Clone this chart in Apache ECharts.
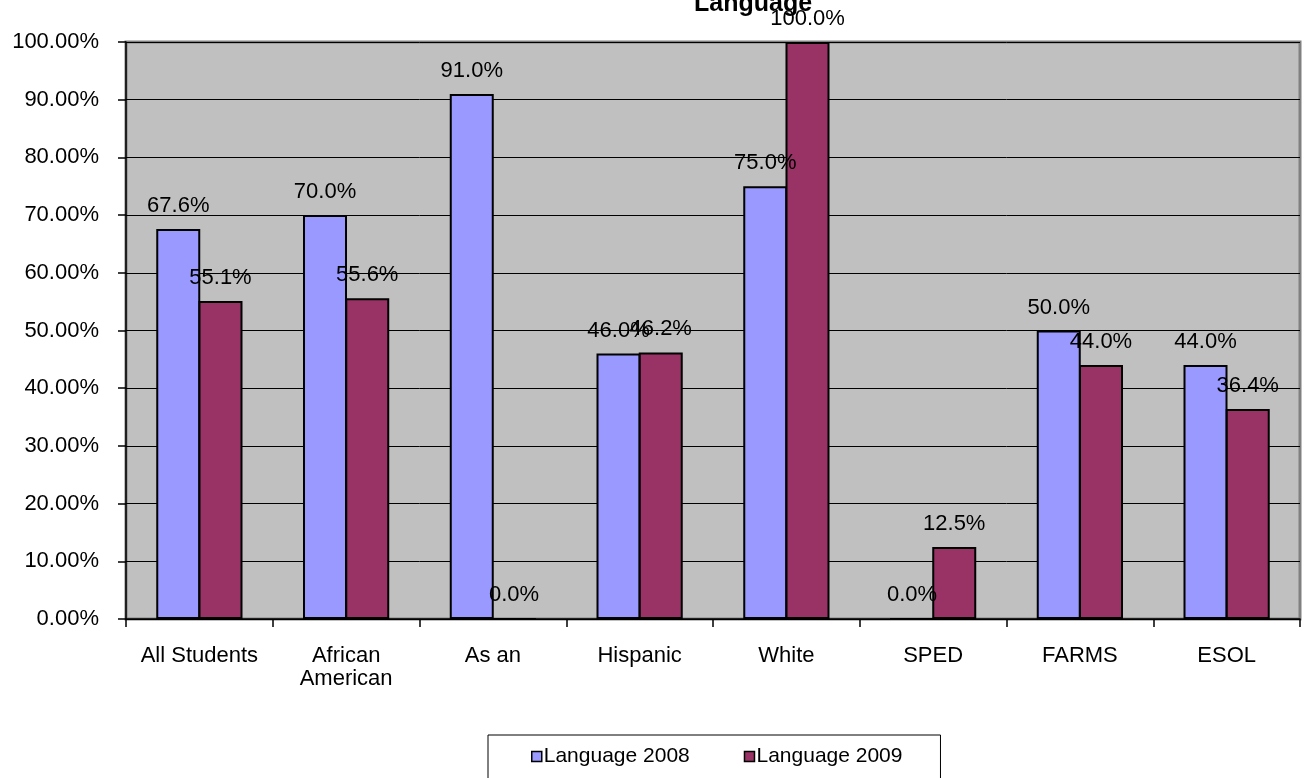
<!DOCTYPE html>
<html>
<head>
<meta charset="utf-8">
<style>
  html, body { margin: 0; padding: 0; background: #ffffff; }
  #chart { width: 1304px; height: 778px; }
</style>
<script src="https://cdn.jsdelivr.net/npm/echarts@6/dist/echarts.min.js"></script>
</head>
<body>
<div id="chart"></div>
<script>
// Student groups along the x axis
const categories = ['All Students', 'African\nAmerican', 'As an', 'Hispanic', 'White', 'SPED', 'FARMS', 'ESOL'];
// Percent proficient per group
const language2008 = [67.6, 70.0, 91.0, 46.0, 75.0, 0.0, 50.0, 44.0];
const language2009 = [55.1, 55.6, 0.0, 46.2, 100.0, 12.5, 44.0, 36.4];
const seriesNames = ['Language 2008', 'Language 2009'];

const FONT = 'Liberation Sans';
const FONT_SIZE = 22;
const chart = echarts.init(document.getElementById('chart'), null, { renderer: 'canvas' });

const labelStyle = {
  show: true,
  position: 'top',
  distance: 12,
  color: '#000',
  fontFamily: FONT,
  fontSize: FONT_SIZE,
  formatter: p => p.value.toFixed(1) + '%'
};

chart.setOption({
  animation: false,
  backgroundColor: '#ffffff',
  title: {
    text: 'Language',
    left: 689,
    top: -13,
    textStyle: { fontFamily: 'Liberation Sans', fontWeight: 'bold', fontSize: 25, color: '#000' }
  },
  grid: {
    left: 126, right: 4, top: 42, bottom: 159,
    show: true,
    backgroundColor: '#c0c0c0',
    borderColor: '#808080',
    borderWidth: 3
  },
  legend: {
    data: seriesNames,
    left: 488,
    top: 735,
    padding: [11, 38, 40, 43],
    itemGap: 54,
    itemWidth: 10,
    itemHeight: 10,
    backgroundColor: '#ffffff',
    borderColor: '#000',
    borderWidth: 1,
    borderRadius: 0,
    icon: 'rect',
    itemStyle: { borderColor: '#000', borderWidth: 1.5 },
    textStyle: { fontFamily: FONT, fontSize: 21, color: '#000', padding: [0, 0, 0, -3] }
  },
  xAxis: {
    type: 'category',
    data: categories,
    axisLine: { show: true, lineStyle: { color: '#000', width: 1.5 } },
    axisTick: { show: true, alignWithLabel: false, length: 8, lineStyle: { color: '#000', width: 1.5 } },
    axisLabel: {
      interval: 0,
      margin: 25,
      color: '#000',
      fontFamily: FONT,
      fontSize: FONT_SIZE,
      lineHeight: 23
    },
    splitLine: { show: false }
  },
  yAxis: {
    type: 'value',
    min: 0,
    max: 100,
    interval: 10,
    axisLine: { show: true, lineStyle: { color: '#000', width: 1.5 } },
    axisTick: { show: true, length: 8, lineStyle: { color: '#000', width: 1.5 } },
    axisLabel: {
      margin: 27,
      color: '#000',
      fontFamily: FONT,
      fontSize: FONT_SIZE,
      formatter: v => v.toFixed(2) + '%'
    },
    splitLine: { show: true, lineStyle: { color: '#000', width: 1 } }
  },
  series: [
    {
      name: seriesNames[0],
      type: 'bar',
      data: language2008,
      barWidth: 44,
      barGap: '-4%',
      itemStyle: { color: '#9999ff', borderColor: '#000', borderWidth: 2 },
      label: labelStyle
    },
    {
      name: seriesNames[1],
      type: 'bar',
      data: language2009,
      barWidth: 44,
      barGap: '-4%',
      itemStyle: { color: '#993366', borderColor: '#000', borderWidth: 2 },
      label: labelStyle
    }
  ]
});
</script>
</body>
</html>
